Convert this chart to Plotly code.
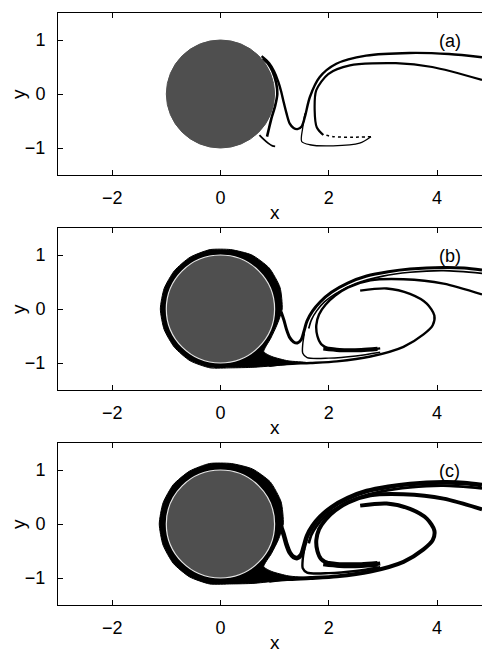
import plotly.graph_objects as go

# ---------------- data ----------------
panel_labels = ["(a)", "(b)", "(c)"]
x_tick_vals = [-2, 0, 2, 4]
x_tick_text = ["\u22122", "0", "2", "4"]
y_tick_vals = [-1, 0, 1]
y_tick_text = ["\u22121", "0", "1"]
x_range = [-3, 4.83]
y_range = [-1.5, 1.5]
cylinder_radius = 1.0

# panel (a) filaments
a_outer_x = [0.76, 0.90, 0.99, 1.07, 1.12, 1.16, 1.22, 1.28, 1.35, 1.42, 1.50, 1.56, 1.65, 1.83, 2.14, 2.69, 3.49, 4.22, 4.83]
a_outer_y = [0.70, 0.57, 0.42, 0.22, 0.05, -0.12, -0.36, -0.55, -0.63, -0.65, -0.60, -0.42, -0.06, 0.31, 0.56, 0.71, 0.76, 0.74, 0.68]
a_hug_x = [0.78, 0.88, 0.96, 1.03, 1.05, 1.01, 0.95, 0.90, 0.86]
a_hug_y = [0.66, 0.56, 0.42, 0.20, 0.00, -0.22, -0.42, -0.62, -0.79]
a_inner_x = [1.90, 1.78, 1.74, 1.77, 1.99, 2.39, 3.24, 3.91, 4.83]
a_inner_y = [-0.76, -0.62, -0.30, 0.07, 0.37, 0.53, 0.57, 0.50, 0.26]
a_lower_x = [1.56, 1.52, 1.50, 1.65, 2.08, 2.57, 2.78]
a_lower_y = [-0.36, -0.62, -0.88, -0.94, -0.96, -0.91, -0.79]
a_return_x = [2.78, 2.45, 2.08, 1.90]
a_return_y = [-0.79, -0.80, -0.79, -0.75]
a_tail_x = [0.72, 0.80, 0.88, 0.96, 1.01]
a_tail_y = [-0.76, -0.84, -0.91, -0.96, -0.97]

# panels (b) and (c) filaments
bc_outer_x = [1.12, 1.17, 1.22, 1.28, 1.35, 1.42, 1.49, 1.54, 1.60, 1.70, 1.84, 2.05, 2.35, 2.70, 3.10, 3.50, 4.12, 4.50, 4.83]
bc_outer_y = [-0.05, -0.20, -0.38, -0.53, -0.61, -0.63, -0.57, -0.42, -0.22, -0.04, 0.13, 0.31, 0.48, 0.61, 0.69, 0.74, 0.77, 0.76, 0.72]
bc_outer2_x = [1.63, 1.68, 1.78, 1.92, 2.12, 2.50, 3.00, 3.50, 4.12, 4.83]
bc_outer2_y = [-0.36, -0.20, -0.03, 0.13, 0.28, 0.47, 0.61, 0.68, 0.71, 0.66]
bc_second_x = [2.95, 2.52, 2.03, 1.86, 1.79, 1.77, 1.82, 1.94, 2.12, 2.36, 2.77, 3.38, 4.12, 4.83]
bc_second_y = [-0.73, -0.77, -0.74, -0.65, -0.50, -0.30, -0.10, 0.08, 0.25, 0.40, 0.53, 0.55, 0.47, 0.27]
bc_loop_x = [2.58, 3.07, 3.50, 3.81, 3.95, 3.92, 3.75, 3.38, 2.77, 2.15, 1.66, 1.23, 0.90]
bc_loop_y = [0.34, 0.38, 0.28, 0.10, -0.12, -0.30, -0.47, -0.70, -0.88, -0.97, -1.00, -1.02, -1.05]
bc_spike_x = [1.55, 1.52, 1.52, 1.60, 2.00, 2.50, 2.95]
bc_spike_y = [-0.45, -0.65, -0.82, -0.90, -0.91, -0.87, -0.80]
bc_tongue_x = [1.90, 2.20, 2.60, 2.90]
bc_tongue_y = [-0.73, -0.76, -0.76, -0.74]

# black band hugging the cylinder (outer boundary, incl. the trailing wedge)
b_ring_x = [1.14, 1.10, 0.90, 0.58, 0.19, -0.19, -0.56, -0.85, -1.04, -1.11, -1.04, -0.85, -0.56, -0.19, 0.19,
            0.60, 1.00, 1.30, 1.58, 1.25, 0.95, 0.80, 0.93, 1.05]
b_ring_y = [0.00, 0.40, 0.76, 1.00, 1.10, 1.10, 0.96, 0.71, 0.38, 0.00, -0.38, -0.71, -0.96, -1.09, -1.09,
            -1.08, -1.05, -1.02, -0.99, -0.96, -0.88, -0.79, -0.54, -0.28]
c_ring_x = [1.16, 1.12, 0.92, 0.59, 0.20, -0.20, -0.57, -0.87, -1.06, -1.13, -1.06, -0.87, -0.57, -0.20, 0.20,
            0.60, 1.00, 1.30, 1.60, 1.25, 0.95, 0.80, 0.94, 1.07]
c_ring_y = [0.00, 0.41, 0.78, 1.02, 1.12, 1.12, 0.98, 0.73, 0.39, 0.00, -0.39, -0.73, -0.98, -1.11, -1.11,
            -1.10, -1.06, -1.03, -1.00, -0.96, -0.88, -0.79, -0.55, -0.29]

# ---------------- figure ----------------
W, H = 482, 652
panel_tops = [13, 228, 443]
panel_h = 162
x_left = 58 / W

fig = go.Figure()

def add_line(i, xs, ys, width, dash="solid"):
    fig.add_trace(go.Scatter(x=xs, y=ys, mode="lines",
                             line=dict(color="black", width=width, shape="spline", smoothing=0.8, dash=dash),
                             xaxis=f"x{i}", yaxis=f"y{i}", showlegend=False, hoverinfo="skip"))

def add_fill(i, xs, ys):
    fig.add_trace(go.Scatter(x=xs + xs[:1], y=ys + ys[:1], mode="lines", fill="toself",
                             fillcolor="black", line=dict(color="black", width=1, shape="spline", smoothing=0.6),
                             xaxis=f"x{i}", yaxis=f"y{i}", showlegend=False, hoverinfo="skip"))

# panel (a)
add_line(1, a_outer_x, a_outer_y, 2.4)
add_line(1, a_hug_x, a_hug_y, 2.6)
add_line(1, a_inner_x, a_inner_y, 2.2)
add_line(1, a_lower_x, a_lower_y, 1.3)
add_line(1, a_return_x, a_return_y, 1.5, dash="dot")
add_line(1, a_tail_x, a_tail_y, 1.8)

# panels (b), (c)
for i, ring_x, ring_y, w in [(2, b_ring_x, b_ring_y, 2.4), (3, c_ring_x, c_ring_y, 4.0)]:
    add_fill(i, ring_x, ring_y)
    add_line(i, bc_outer_x, bc_outer_y, w + 0.6)
    add_line(i, bc_outer2_x, bc_outer2_y, w * 0.7)
    add_line(i, bc_second_x, bc_second_y, w)
    add_line(i, bc_loop_x, bc_loop_y, w)
    add_line(i, bc_spike_x, bc_spike_y, w * 0.6)
    add_line(i, bc_tongue_x, bc_tongue_y, w + 1.8)

shapes = []
annotations = []
layout = dict(width=W, height=H, margin=dict(l=0, r=0, t=0, b=0, autoexpand=False),
              paper_bgcolor="white", plot_bgcolor="white", showlegend=False,
              font=dict(family="Liberation Sans, Arial, sans-serif", size=18, color="black"))

for k in range(3):
    i = k + 1
    top = panel_tops[k]
    dom_y = [1 - (top + panel_h) / H, 1 - top / H]
    layout[f"xaxis{i}"] = dict(domain=[x_left, 1.0], range=x_range, anchor=f"y{i}",
                               tickvals=x_tick_vals, ticktext=x_tick_text,
                               ticks="inside", ticklen=5, tickcolor="black",
                               showline=True, linecolor="black", linewidth=1, mirror="ticks",
                               showgrid=False, zeroline=False, ticklabelstandoff=6,
                               automargin=False, tickfont=dict(size=18))
    layout[f"yaxis{i}"] = dict(domain=dom_y, range=y_range, anchor=f"x{i}",
                               tickvals=y_tick_vals, ticktext=y_tick_text,
                               ticks="inside", ticklen=5, tickcolor="black",
                               showline=True, linecolor="black", linewidth=1, mirror=False,
                               showgrid=False, zeroline=False, ticklabelstandoff=8,
                               automargin=False, tickfont=dict(size=18))
    shapes.append(dict(type="circle", xref=f"x{i}", yref=f"y{i}",
                       x0=-cylinder_radius, x1=cylinder_radius, y0=-cylinder_radius, y1=cylinder_radius,
                       fillcolor="#4f4f4f",
                       line=dict(color="#4f4f4f" if k == 0 else "#e6e6e6", width=1 if k == 0 else 1.2),
                       layer="above"))
    annotations.append(dict(text=panel_labels[k], xref=f"x{i}", yref=f"y{i}", x=4.23, y=0.98,
                            xanchor="center", yanchor="middle", showarrow=False, font=dict(size=18)))
    annotations.append(dict(text="x", xref="paper", yref="paper", x=275 / W,
                            y=1 - (top + 199) / H, xanchor="center", yanchor="middle",
                            showarrow=False, font=dict(size=19)))
    annotations.append(dict(text="y", xref="paper", yref="paper", x=18 / W,
                            y=1 - (top + 81) / H, xanchor="center", yanchor="middle",
                            showarrow=False, textangle=-90, font=dict(size=19)))

layout["shapes"] = shapes
layout["annotations"] = annotations
fig.update_layout(**layout)
fig.write_html("out.html", config={"displayModeBar": False},
               post_script="document.body.style.margin='0';document.body.style.overflow='hidden';")
